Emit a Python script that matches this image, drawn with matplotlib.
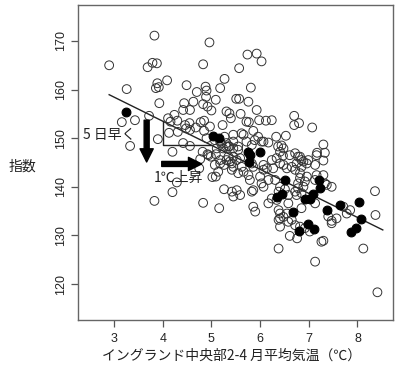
import matplotlib
matplotlib.use("Agg")
import matplotlib.pyplot as plt
import numpy as np

plt.rcParams['font.family'] = ['Noto Sans CJK JP', 'DejaVu Sans']
plt.rcParams['xtick.major.size'] = 4.75
plt.rcParams['ytick.major.size'] = 4.75
plt.rcParams['xtick.major.pad'] = 4.3
plt.rcParams['ytick.major.pad'] = 3.4
plt.rcParams['xtick.major.width'] = 0.9
plt.rcParams['ytick.major.width'] = 0.9
plt.rcParams['xtick.color'] = '#555555'
plt.rcParams['ytick.color'] = '#555555'
plt.rcParams['xtick.labelcolor'] = '#222222'
plt.rcParams['ytick.labelcolor'] = '#222222'

# open circles (all years)
open_pts = [
    (2.90,165.0),(3.83,171.1),(4.96,169.7),(3.69,164.6),(3.79,165.5),(3.88,165.4),(3.26,160.1),
    (3.89,161.3),(3.86,160.3),(3.92,160.5),(4.09,161.9),(3.93,157.2),(4.49,160.9),(4.83,165.2),
    (4.70,159.5),(4.88,160.6),(4.90,159.8),(4.89,158.5),(5.18,160.3),(5.27,162.2),(5.09,157.9),
    (4.44,157.2),(4.63,157.5),(4.42,155.8),(4.56,155.8),(4.83,157.0),(4.92,156.5),(5.00,155.7),
    (5.31,155.5),(3.72,154.6),(3.43,153.7),(3.16,153.3),(3.33,148.4),(3.90,149.8),(4.11,154.1),
    (4.24,154.8),(4.30,153.6),(4.16,153.4),(4.46,152.7),(4.55,153.1),(4.48,152.0),(4.56,151.7),
    (4.68,152.2),(4.78,153.3),(4.85,153.6),(4.85,151.5),(4.97,152.4),(4.13,151.1),(4.31,151.3),
    (4.42,149.0),(4.56,148.4),(4.20,147.2),(4.82,147.2),(4.92,146.7),(4.99,146.2),(5.09,146.7),
    (5.11,147.9),(5.20,148.9),(5.27,150.3),(5.35,148.3),(4.77,145.7),(4.75,143.8),(5.18,145.5),
    (5.26,144.5),(5.35,146.2),(4.29,140.9),(4.20,138.9),(3.83,137.1),(4.83,136.7),(5.02,142.0),
    (5.09,142.1),(5.26,139.5),(5.16,135.6),
    (5.74,167.2),(5.93,167.4),(6.03,165.8),(5.57,164.4),(5.81,160.4),(5.51,158.1),(5.57,158.1),
    (5.76,157.5),(5.93,155.8),(5.37,155.1),(5.40,154.1),(5.60,155.0),(5.98,153.7),(6.12,153.6),
    (6.24,153.7),(5.72,153.4),(5.77,153.3),(5.23,152.7),(6.70,154.6),(6.70,152.7),(6.80,153.1),
    (7.07,152.2),(5.45,150.7),(5.62,151.0),(5.66,150.7),(5.86,151.5),(5.96,150.3),(5.89,149.6),
    (6.03,149.3),(6.17,149.1),(6.33,150.3),(6.53,150.5),(7.30,148.7),(7.17,147.0),(7.33,147.0),
    (7.30,145.4),(4.90,150.0),(5.07,149.6),(5.31,148.3),(5.24,147.9),(5.37,148.3),(5.45,147.9),
    (6.37,148.3),(6.44,148.5),(6.41,147.2),(6.47,146.4),(6.34,145.9),(6.61,146.5),(6.72,146.9),
    (6.78,146.2),(6.85,145.5),(6.96,144.8),(5.55,147.6),(5.45,146.2),(5.59,145.9),(5.83,148.6),
    (4.94,146.5),(5.31,145.5),(5.42,144.8),(5.52,145.5),(5.62,144.1),(6.07,144.5),(5.83,144.8),
    (6.24,145.5),(6.41,144.8),
    (5.18,149.3),(5.31,149.0),(5.45,149.3),(5.55,148.3),(5.72,149.3),(6.07,149.3),(6.48,147.9),
    (6.99,145.5),(5.18,144.8),(5.38,145.2),(5.45,144.1),(5.55,142.8),(5.66,143.1),(5.76,142.4),
    (5.86,144.1),(6.27,143.8),(6.48,144.5),(6.55,143.8),(6.65,144.1),(6.82,142.8),(6.92,141.1),
    (6.96,142.1),(6.78,140.7),(6.72,139.0),(6.85,138.7),(6.89,140.0),(5.52,139.3),(5.45,138.0),
    (5.59,138.3),(5.83,139.0),(5.86,139.3),(6.00,142.1),(6.03,140.7),(6.07,140.0),(6.31,141.4),
    (6.41,140.0),(6.17,136.6),(6.34,137.3),(6.38,135.2),(6.58,136.6),(6.55,134.5),(6.41,133.5),
    (6.48,133.8),(6.65,133.2),(6.41,131.8),(6.82,131.8),(6.92,131.5),(5.86,135.9),(5.90,134.9),
    (5.07,144.5),(5.14,143.1),(5.42,143.5),(5.42,139.0),(5.79,141.4),(6.17,141.4),(6.07,143.5),
    (6.14,143.8),(6.24,137.6),(6.41,134.5),(6.38,133.2),(6.38,127.3),(6.58,132.8),(6.61,129.9),
    (6.76,129.4),(6.72,132.1),(6.38,139.0),(6.51,139.5),(6.58,138.3),(6.75,138.3),(6.78,139.7),
    (6.85,135.6),(7.13,136.6),(7.02,130.8),(7.13,124.6),(7.26,128.7),(7.30,128.9),(7.40,133.9),
    (7.47,133.0),(7.57,133.5),(7.78,134.5),(7.71,135.9),(7.47,140.0),(7.37,140.4),(8.12,127.3),
    (8.36,139.1),(8.37,134.2),(8.41,118.3),(6.82,141.8),(6.72,143.5),(6.85,144.1),(6.75,144.8),
    (6.89,145.2),(7.13,144.5),(7.16,146.5),(6.82,146.2),(7.16,142.4),(7.30,142.4),(7.13,141.4),
    (7.33,140.7),(7.85,135.2),(7.47,132.5),
]
open_x = [p[0] for p in open_pts]
open_y = [p[1] for p in open_pts]

# filled circles (recent years)
filled_x = [3.25, 5.03, 5.16, 5.75, 5.79, 6.00, 5.77, 6.51, 6.34, 6.46, 6.67, 6.80, 6.92,
            7.02, 7.08, 7.20, 7.23, 6.99, 7.11, 7.37, 7.64, 8.04, 8.07, 7.96, 7.87]
filled_y = [155.3, 150.5, 150.0, 147.2, 146.5, 147.2, 145.0, 141.4, 138.0, 138.5, 134.9, 131.0, 137.4,
            137.4, 138.5, 141.3, 139.8, 132.3, 131.4, 135.2, 136.3, 136.8, 133.4, 131.6, 130.7]

# regression line
line_intercept = 173.3
line_slope = -4.95
line_x_range = [2.90, 8.52]

x_ticks = [3, 4, 5, 6, 7, 8]
y_ticks = [120, 130, 140, 150, 160, 170]

tick_font = {'family': 'Liberation Sans', 'size': 9}

fig = plt.figure(figsize=(4, 3.75), dpi=100)
ax = fig.add_axes([0.195, 0.1467, 0.7875, 0.84])

ax.scatter(open_x, open_y, s=40, facecolors='none', edgecolors='#333333', linewidths=0.7, zorder=3)
ax.scatter(filled_x, filled_y, s=40, facecolors='black', edgecolors='black', linewidths=0.8, zorder=4)

lx = np.array(line_x_range)
ax.plot(lx, line_intercept + line_slope * lx, color='#222222', lw=1.0, zorder=2)

# triangle showing slope
xa, xb = 4.0, 5.0
ya, yb = line_intercept + line_slope * xa, line_intercept + line_slope * xb
ax.plot([xa, xa, xb], [ya, yb, yb], color='#222222', lw=1.0, zorder=2)

arrow_kw = dict(arrowstyle='simple,head_length=0.95,head_width=0.95,tail_width=0.36',
                color='black', shrinkA=0, shrinkB=0, mutation_scale=10)
ax.annotate('', xy=(3.67, 145.1), xytext=(3.67, 153.7), arrowprops=arrow_kw, zorder=5)
ax.annotate('', xy=(4.80, 144.7), xytext=(3.98, 144.7), arrowprops=arrow_kw, zorder=5)

ax.text(2.90, 150.7, '5 日早く', ha='center', va='center', fontsize=10, color='#222222', zorder=6)
ax.text(4.33, 141.8, '1℃上昇', ha='center', va='center', fontsize=10, color='#222222', zorder=6)

ax.set_xlim(2.26, 8.73)
ax.set_ylim(112.6, 177.4)
ax.set_xticks(x_ticks)
ax.set_yticks(y_ticks)
ax.set_xticklabels([str(t) for t in x_ticks], fontdict=tick_font)
ax.set_yticklabels([str(t) for t in y_ticks], fontdict=tick_font, rotation=90, va='center')
for sp in ax.spines.values():
    sp.set_color('#666666')
    sp.set_linewidth(1.0)

fig.text(22/400, 1 - 167/375, '指数', ha='center', va='center', fontsize=10, color='#222222')
fig.text(232/400, 1 - 356/375, 'イングランド中央部2-4 月平均気温（℃）', ha='center', va='center',
         fontsize=10, color='#222222')

fig.savefig('out.png', dpi=100)
